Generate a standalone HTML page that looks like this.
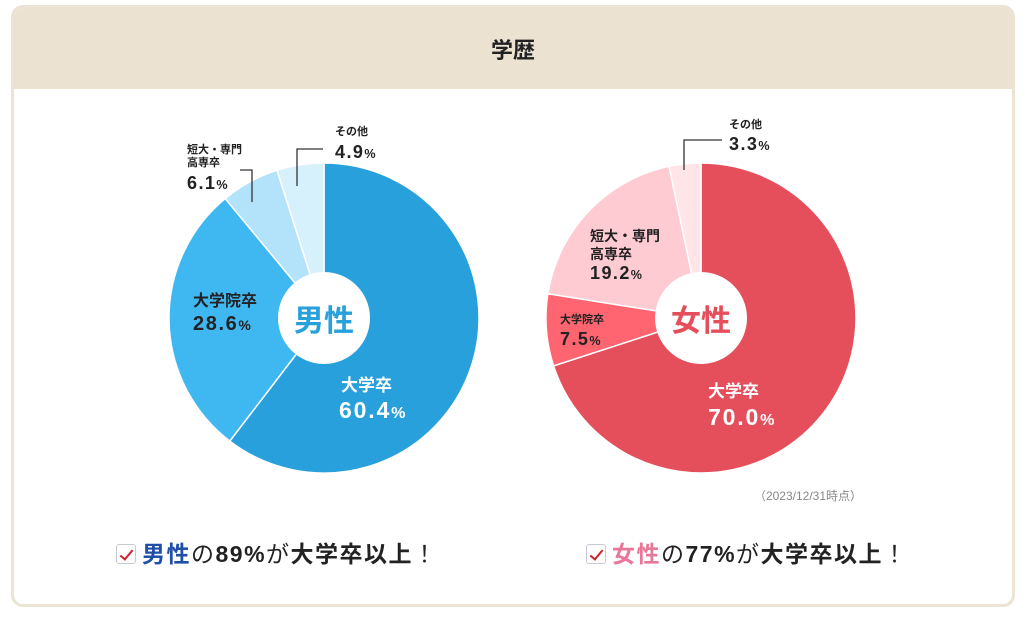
<!DOCTYPE html>
<html><head><meta charset="utf-8">
<style>
html,body{margin:0;padding:0;background:#fff;width:1024px;height:617px;overflow:hidden;}
body{font-family:"Liberation Sans","Noto Sans CJK JP",sans-serif;}
.card{position:absolute;left:11px;top:5px;width:998px;height:596px;border:3px solid #ebe3d3;border-radius:12px;overflow:hidden;background:#fff;}
.head{position:absolute;left:0;top:0;width:100%;height:81px;background:#ebe2d2;}
.title{position:absolute;left:0;width:100%;top:25px;text-align:center;font-size:22px;font-weight:bold;color:#222;}
svg{position:absolute;left:0;top:0;}
.sum{position:absolute;top:535px;font-size:23px;letter-spacing:1.5px;font-weight:bold;color:#222;white-space:nowrap;}
.box{display:inline-block;width:18px;height:18px;border:1px solid #c9c9d3;border-radius:3px;vertical-align:-2px;margin-right:6px;position:relative;background:#fff;}
.box:after{content:"";position:absolute;left:6px;top:2px;width:5px;height:11px;border-right:2.5px solid #d0202a;border-bottom:2.5px solid #d0202a;transform:rotate(40deg);}
</style></head><body>
<div class="card">
 <div class="head"><div class="title">学歴</div></div>
</div>
<svg width="1024" height="617" id="chart"></svg>
<div class="sum" style="left:116px"><span class="box"></span><span style="color:#1f4fa8">男性</span><span style="font-weight:normal">の</span>89%<span style="font-weight:normal">が</span>大学卒以上<span style="font-weight:normal">！</span></div>
<div class="sum" style="left:586px"><span class="box"></span><span style="color:#e8789a">女性</span><span style="font-weight:normal">の</span>77%<span style="font-weight:normal">が</span>大学卒以上<span style="font-weight:normal">！</span></div>
<script>
const maleValues=[60.4,28.6,6.1,4.9];
const femaleValues=[70.0,7.5,19.2,3.3];
const categories=["大学卒","大学院卒","短大・専門高専卒","その他"];
const maleColors=["#27a0db","#3fb8f2","#b3e3fb","#d6f0fc"];
const femaleColors=["#e54f5b","#fe6570","#ffcbd2","#ffe4e8"];
const NS="http://www.w3.org/2000/svg";
const svg=document.getElementById('chart');
function mk(tag,attrs){const e=document.createElementNS(NS,tag);for(const k in attrs)e.setAttribute(k,attrs[k]);svg.appendChild(e);return e;}
function pie(cx,cy,r,vals,cols,name){
 const tot=vals.reduce((a,b)=>a+b,0);let a0=0;
 vals.forEach((v,i)=>{
  const a1=a0+v/tot*2*Math.PI;
  const x0=cx+r*Math.sin(a0),y0=cy-r*Math.cos(a0),x1=cx+r*Math.sin(a1),y1=cy-r*Math.cos(a1);
  const p=mk('path',{d:`M${cx},${cy}L${x0},${y0}A${r},${r} 0 ${a1-a0>Math.PI?1:0} 1 ${x1},${y1}Z`,fill:cols[i],stroke:'#fff','stroke-width':1.5});
  
  
  a0=a1;
 });
 const c=mk('circle',{cx:cx,cy:cy,r:46,fill:'#fff'});
 
 
}
pie(324,318,155,maleValues,maleColors,'male');
pie(701,318,155,femaleValues,femaleColors,'female');
function txt(x,y,s,size,col,anchor){const t=mk('text',{x:x,y:y,'font-size':size,'font-weight':'bold',fill:col,'text-anchor':anchor||'start','font-family':'"Liberation Sans","Noto Sans CJK JP",sans-serif'});t.textContent=s;
 
 return t;}
function pct(x,y,v,size,col){const t=txt(x,y,v.toFixed(1),size,col);t.setAttribute('letter-spacing',size*0.08);const s=document.createElementNS(NS,'tspan');s.setAttribute('font-size',size*0.7);s.textContent='%';t.appendChild(s);}
txt(324,331,'男性',30,'#27a0db','middle');txt(701,331,'女性',30,'#e54f5b','middle');
txt(341,391,categories[0],17,'#fff');pct(339,418,maleValues[0],23,'#fff');
txt(193,306,'大学院卒',16,'#222');pct(193,330,maleValues[1],20,'#222');
txt(187,153,'短大・専門',11,'#222');txt(187,166,'高専卒',11,'#222');pct(187,189,maleValues[2],18,'#222');
txt(335,135,categories[3],11,'#222');pct(335,158,maleValues[3],18,'#222');
txt(708,397,categories[0],17,'#fff');pct(708,425,femaleValues[0],23,'#fff');
txt(560,323,'大学院卒',11,'#222');pct(560,345,femaleValues[1],18,'#222');
txt(590,241,'短大・専門',14,'#222');txt(590,259,'高専卒',14,'#222');pct(590,279,femaleValues[2],18,'#222');
txt(729,128,categories[3],11,'#222');pct(729,150,femaleValues[3],18,'#222');
mk('polyline',{points:'240,170 252,170 252,202',fill:'none',stroke:'#333','stroke-width':1.3});
mk('polyline',{points:'323,149 297,149 297,186',fill:'none',stroke:'#333','stroke-width':1.3});
mk('polyline',{points:'722,140 684,140 684,170',fill:'none',stroke:'#333','stroke-width':1.3});
const d=txt(862,500,'（2023/12/31時点）',12,'#888','end');d.setAttribute('font-weight','normal');
</script>
</body></html>
